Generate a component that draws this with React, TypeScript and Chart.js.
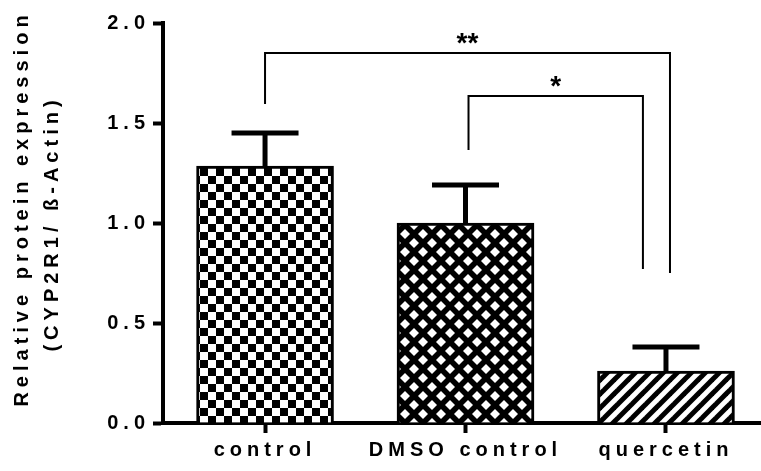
import React, { useEffect, useRef } from 'react';
import { Chart, registerables } from 'chart.js';

Chart.register(...registerables);

// ---- data ----
const categories = ['control', 'DMSO control', 'quercetin'];
const means = [1.285, 1.0, 0.26];
const errors = [0.165, 0.19, 0.12];
const yTicks = [0, 0.5, 1.0, 1.5, 2.0];
const titleLines = ['Relative protein expression', '(CYP2R1/ ß-Actin)'];

// significance brackets
const sigLabels = ['**', '*'];
const sigX1 = [0, 1.015];
const sigX2 = [2.02, 1.885];
const sigTop = [1.85, 1.635];
const sigLeftBottom = [1.595, 1.365];
const sigRightBottom = [0.75, 0.77];

const FAMILY = "'Liberation Sans', Arial, sans-serif";
const SPACING = '5px';
const FONT_SIZE = 20;

function makeChecker(ctx: CanvasRenderingContext2D) {
  const s = 8;
  const c = document.createElement('canvas');
  c.width = s * 2;
  c.height = s * 2;
  const g = c.getContext('2d')!;
  g.fillStyle = '#fff';
  g.fillRect(0, 0, s * 2, s * 2);
  g.fillStyle = '#000';
  g.fillRect(0, 0, s, s);
  g.fillRect(s, s, s, s);
  return ctx.createPattern(c, 'repeat')!;
}

function makeCrossHatch(ctx: CanvasRenderingContext2D) {
  const S = 18;
  const r = 5;
  const c = document.createElement('canvas');
  c.width = S;
  c.height = S;
  const g = c.getContext('2d')!;
  g.fillStyle = '#000';
  g.fillRect(0, 0, S, S);
  g.fillStyle = '#fff';
  const centers = [
    [S / 2, 0],
    [0, S / 2],
    [S, S / 2],
    [S / 2, S],
  ];
  for (const [cx, cy] of centers) {
    g.beginPath();
    g.moveTo(cx, cy - r);
    g.lineTo(cx + r, cy);
    g.lineTo(cx, cy + r);
    g.lineTo(cx - r, cy);
    g.closePath();
    g.fill();
  }
  return ctx.createPattern(c, 'repeat')!;
}

function makeHatch(ctx: CanvasRenderingContext2D) {
  const S = 14;
  const c = document.createElement('canvas');
  c.width = S;
  c.height = S;
  const g = c.getContext('2d')!;
  g.fillStyle = '#fff';
  g.fillRect(0, 0, S, S);
  g.strokeStyle = '#000';
  g.lineWidth = 5;
  for (const k of [0, S, 2 * S]) {
    g.beginPath();
    g.moveTo(k + 3, -3);
    g.lineTo(k - S - 3, S + 3);
    g.stroke();
  }
  return ctx.createPattern(c, 'repeat')!;
}

const spacingPlugin = {
  id: 'letterSpacing',
  beforeInit(chart: any) {
    chart.ctx.letterSpacing = SPACING;
  },
  beforeUpdate(chart: any) {
    chart.ctx.letterSpacing = SPACING;
  },
  beforeLayout(chart: any) {
    chart.ctx.letterSpacing = SPACING;
  },
  beforeDraw(chart: any) {
    chart.ctx.letterSpacing = SPACING;
  },
};

const overlayPlugin = {
  id: 'overlay',
  afterDatasetsDraw(chart: any) {
    const { ctx } = chart;
    const xs = chart.scales.x;
    const ys = chart.scales.y;
    ctx.save();
    ctx.strokeStyle = '#000';
    ctx.lineCap = 'butt';
    // error bars (upper only)
    means.forEach((m, i) => {
      const x = xs.getPixelForValue(i);
      const yb = ys.getPixelForValue(m);
      const yt = ys.getPixelForValue(m + errors[i]);
      ctx.lineWidth = 5;
      ctx.beginPath();
      ctx.moveTo(x, yb);
      ctx.lineTo(x, yt);
      ctx.stroke();
      ctx.beginPath();
      ctx.moveTo(x - 33.5, yt);
      ctx.lineTo(x + 33.5, yt);
      ctx.stroke();
    });
    // significance brackets
    ctx.lineWidth = 2;
    ctx.lineJoin = 'miter';
    sigLabels.forEach((lab, i) => {
      const x1 = xs.getPixelForValue(sigX1[i]);
      const x2 = xs.getPixelForValue(sigX2[i]);
      const yt = ys.getPixelForValue(sigTop[i]);
      const yl = ys.getPixelForValue(sigLeftBottom[i]);
      const yr = ys.getPixelForValue(sigRightBottom[i]);
      ctx.beginPath();
      ctx.moveTo(x1, yl);
      ctx.lineTo(x1, yt);
      ctx.lineTo(x2, yt);
      ctx.lineTo(x2, yr);
      ctx.stroke();
      ctx.letterSpacing = '0px';
      ctx.fillStyle = '#000';
      ctx.font = `bold 28px ${FAMILY}`;
      ctx.textAlign = 'center';
      ctx.textBaseline = 'alphabetic';
      ctx.fillText(lab, (x1 + x2) / 2, yt - 1);
    });
    ctx.restore();
    ctx.letterSpacing = SPACING;
  },
  afterDraw(chart: any) {
    const { ctx } = chart;
    ctx.save();
    ctx.letterSpacing = SPACING;
    ctx.fillStyle = '#000';
    ctx.font = `bold ${FONT_SIZE}px ${FAMILY}`;
    ctx.textAlign = 'center';
    ctx.textBaseline = 'middle';
    const pos = [
      [22, 211],
      [52, 226],
    ];
    titleLines.forEach((t, i) => {
      ctx.save();
      ctx.translate(pos[i][0], pos[i][1]);
      ctx.rotate(-Math.PI / 2);
      ctx.fillText(t, 2.5, 0);
      ctx.restore();
    });
    ctx.restore();
  },
};

export default function App() {
  const ref = useRef<HTMLCanvasElement | null>(null);

  useEffect(() => {
    const canvas = ref.current!;
    const ctx = canvas.getContext('2d')!;
    const fills = [makeChecker(ctx), makeCrossHatch(ctx), makeHatch(ctx)];
    const tickFont = { family: FAMILY, size: FONT_SIZE, weight: 'bold' as const };

    const chart = new Chart(canvas, {
      type: 'bar',
      data: {
        datasets: [
          {
            data: means.map((v, i) => ({ x: i, y: v })),
            backgroundColor: fills,
            borderColor: '#000',
            borderWidth: 3,
            borderSkipped: 'bottom',
            barThickness: 137,
          },
        ],
      },
      options: {
        responsive: false,
        animation: false,
        devicePixelRatio: 1,
        layout: { padding: { top: 23, left: 0, right: 0, bottom: 0 } },
        plugins: {
          legend: { display: false },
          tooltip: { enabled: false },
        },
        scales: {
          x: {
            type: 'linear',
            offset: false,
            min: -0.509,
            max: 2.474,
            afterBuildTicks: (s: any) => {
              s.ticks = categories.map((_, i) => ({ value: i }));
            },
            afterFit: (s: any) => {
              s.height = 48;
            },
            grid: {
              offset: false,
              drawOnChartArea: false,
              drawTicks: true,
              tickLength: 10,
              tickWidth: 4,
              tickColor: '#000',
            },
            border: { display: true, color: '#000', width: 4 },
            ticks: {
              callback: (v: any) => categories[v as number] ?? '',
              font: tickFont,
              color: '#000',
              padding: 5,
              maxRotation: 0,
              autoSkip: false,
            },
          },
          y: {
            type: 'linear',
            min: 0,
            max: 2,
            afterBuildTicks: (s: any) => {
              s.ticks = yTicks.map((v) => ({ value: v }));
            },
            afterFit: (s: any) => {
              s.width = 163;
            },
            grid: {
              drawOnChartArea: false,
              drawTicks: true,
              tickLength: 10,
              tickWidth: 4,
              tickColor: '#000',
            },
            border: { display: true, color: '#000', width: 4 },
            ticks: {
              callback: (v: any) => Number(v).toFixed(1),
              font: tickFont,
              color: '#000',
              padding: 3,
            },
          },
        },
      },
      plugins: [spacingPlugin, overlayPlugin],
    } as any);

    return () => chart.destroy();
  }, []);

  return (
    <div
      style={{
        position: 'fixed',
        left: 0,
        top: 0,
        width: 761,
        height: 471,
        background: '#fff',
      }}
    >
      <canvas ref={ref} width={761} height={471} style={{ display: 'block' }} />
    </div>
  );
}
